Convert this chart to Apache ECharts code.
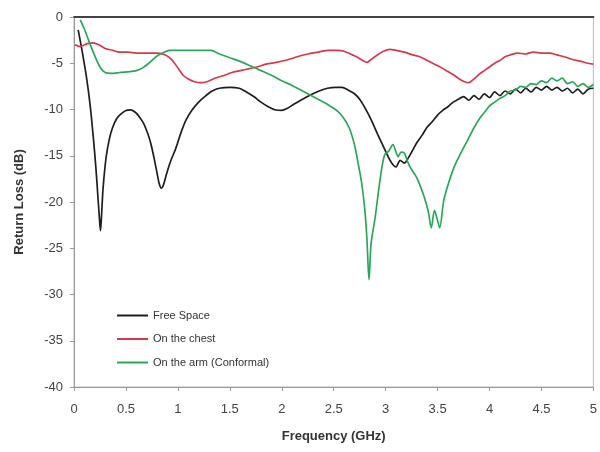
<!DOCTYPE html>
<html>
<head>
<meta charset="utf-8">
<script src="https://cdn.jsdelivr.net/npm/echarts@6/dist/echarts.min.js"></script>
<style>html,body{margin:0;padding:0;background:#fff}#c{width:600px;height:452px}</style>
</head>
<body>
<div id="c"></div>
<script>
var seriesNames = ["Free Space", "On the chest", "On the arm (Conformal)"];
var xTicks = [0, 0.5, 1, 1.5, 2, 2.5, 3, 3.5, 4, 4.5, 5];
var yTicks = [0, -5, -10, -15, -20, -25, -30, -35, -40];

var freeSpace = [[0.04,-1.4],[0.08,-3.8],[0.12,-6.5],[0.155,-9.5],[0.185,-12.9],[0.21,-16.2],[0.23,-19.4],[0.245,-21.8],[0.255,-23.1],[0.265,-21.5],[0.28,-18.5],[0.31,-15.1],[0.34,-13.2],[0.37,-12.0],[0.41,-11.0],[0.45,-10.5],[0.5,-10.1],[0.54,-10.05],[0.59,-10.3],[0.63,-10.8],[0.67,-11.5],[0.71,-12.6],[0.74,-13.7],[0.77,-15.2],[0.8,-16.9],[0.82,-18.0],[0.84,-18.5],[0.86,-18.2],[0.89,-17.0],[0.93,-15.6],[0.98,-14.2],[1.03,-12.5],[1.08,-11.1],[1.14,-10.0],[1.2,-9.2],[1.27,-8.5],[1.33,-8.0],[1.4,-7.7],[1.5,-7.6],[1.59,-7.7],[1.66,-8.1],[1.73,-8.6],[1.8,-9.2],[1.87,-9.7],[1.94,-10.05],[2.0,-10.1],[2.05,-9.9],[2.12,-9.4],[2.2,-8.9],[2.28,-8.4],[2.36,-8.0],[2.44,-7.7],[2.52,-7.6],[2.58,-7.6],[2.64,-7.9],[2.7,-8.3],[2.75,-8.9],[2.8,-9.8],[2.86,-11.1],[2.92,-12.6],[2.97,-13.8],[3.02,-15.0],[3.06,-15.8],[3.1,-16.2],[3.14,-15.5],[3.18,-15.8],[3.22,-15.2],[3.26,-14.4],[3.3,-13.6],[3.35,-12.8],[3.4,-11.9],[3.45,-11.3],[3.5,-10.6],[3.55,-10.1],[3.6,-9.7],[3.65,-9.2],[3.7,-8.9],[3.75,-8.6],[3.8,-9.0],[3.85,-8.5],[3.9,-8.9],[3.95,-8.3],[4.0,-8.7],[4.05,-8.1],[4.1,-8.5],[4.15,-8.0],[4.2,-8.3],[4.25,-7.8],[4.3,-8.2],[4.35,-7.7],[4.4,-8.1],[4.45,-7.6],[4.5,-7.9],[4.55,-7.5],[4.6,-7.9],[4.65,-7.6],[4.7,-8.0],[4.75,-7.7],[4.8,-8.2],[4.85,-7.8],[4.9,-8.3],[4.95,-7.8],[5.0,-7.7]];

var onChest = [[0.01,-3.0],[0.06,-3.2],[0.12,-2.9],[0.18,-2.8],[0.24,-3.0],[0.3,-3.4],[0.37,-3.6],[0.44,-3.8],[0.52,-3.8],[0.6,-3.9],[0.7,-3.9],[0.8,-3.9],[0.88,-4.1],[0.94,-4.6],[1.0,-5.5],[1.05,-6.3],[1.1,-6.7],[1.16,-7.0],[1.22,-7.1],[1.28,-7.0],[1.36,-6.6],[1.45,-6.3],[1.52,-6.0],[1.6,-5.8],[1.68,-5.6],[1.76,-5.4],[1.85,-5.1],[1.95,-4.9],[2.05,-4.65],[2.15,-4.3],[2.25,-4.0],[2.35,-3.8],[2.45,-3.6],[2.54,-3.6],[2.6,-3.7],[2.66,-4.0],[2.72,-4.3],[2.78,-4.7],[2.82,-4.9],[2.86,-4.6],[2.92,-4.1],[2.98,-3.7],[3.04,-3.5],[3.1,-3.6],[3.18,-3.8],[3.26,-4.1],[3.33,-4.3],[3.4,-4.7],[3.47,-5.1],[3.54,-5.5],[3.6,-5.9],[3.66,-6.3],[3.71,-6.7],[3.76,-7.0],[3.8,-7.1],[3.84,-6.8],[3.9,-6.2],[3.95,-5.8],[4.0,-5.4],[4.05,-5.0],[4.1,-4.7],[4.15,-4.3],[4.2,-4.1],[4.27,-3.9],[4.34,-4.0],[4.42,-3.8],[4.5,-3.9],[4.58,-3.9],[4.65,-4.1],[4.72,-4.3],[4.8,-4.6],[4.88,-4.8],[4.95,-5.0],[5.0,-5.1]];

var onArm = [[0.06,-0.3],[0.1,-1.3],[0.15,-2.8],[0.2,-4.2],[0.25,-5.4],[0.3,-6.0],[0.36,-6.1],[0.44,-6.0],[0.54,-5.9],[0.6,-5.8],[0.66,-5.5],[0.72,-5.0],[0.79,-4.3],[0.85,-3.9],[0.92,-3.6],[1.0,-3.6],[1.1,-3.6],[1.2,-3.6],[1.32,-3.6],[1.4,-4.0],[1.5,-4.4],[1.6,-4.8],[1.7,-5.3],[1.8,-5.8],[1.9,-6.3],[2.0,-6.9],[2.1,-7.4],[2.2,-8.0],[2.3,-8.6],[2.4,-9.2],[2.46,-9.6],[2.54,-10.2],[2.6,-11.0],[2.65,-12.0],[2.7,-13.8],[2.73,-15.5],[2.77,-18.0],[2.8,-20.9],[2.82,-24.0],[2.84,-28.4],[2.86,-24.5],[2.9,-21.6],[2.95,-17.3],[2.99,-14.9],[3.03,-14.5],[3.07,-13.8],[3.1,-14.6],[3.12,-15.1],[3.15,-14.6],[3.18,-14.7],[3.21,-15.6],[3.24,-16.3],[3.28,-17.0],[3.31,-17.6],[3.37,-19.4],[3.41,-21.0],[3.44,-22.8],[3.47,-20.9],[3.5,-22.0],[3.52,-22.8],[3.56,-19.8],[3.61,-17.8],[3.66,-16.2],[3.72,-14.8],[3.79,-13.3],[3.85,-12.0],[3.91,-10.9],[3.96,-10.2],[4.0,-9.6],[4.05,-9.2],[4.1,-8.8],[4.15,-8.5],[4.2,-8.0],[4.25,-7.9],[4.3,-7.5],[4.35,-7.6],[4.4,-7.2],[4.45,-7.3],[4.5,-6.9],[4.55,-7.1],[4.6,-6.6],[4.65,-6.9],[4.7,-6.6],[4.75,-7.2],[4.8,-7.0],[4.85,-7.5],[4.9,-7.2],[4.95,-7.6],[5.0,-7.3]];

var colors = ["#1e1e1e", "#d8394a", "#2aa85a"];
var chart = echarts.init(document.getElementById('c'), null, {renderer: 'canvas'});
var font = "Liberation Sans, Arial, sans-serif";
chart.setOption({
  animation: false,
  backgroundColor: '#ffffff',
  textStyle: {fontFamily: font},
  grid: {left: 74, right: 3, top: 17, bottom: 65, show: true, borderColor: '#bbbbbb', borderWidth: 1, backgroundColor: 'transparent'},
  legend: {
    orient: 'vertical', left: 112, top: 305, itemWidth: 31, itemHeight: 2, itemGap: 12.5,
    icon: 'rect',
    textStyle: {fontSize: 11, color: '#333', fontFamily: font},
    data: seriesNames
  },
  xAxis: [{
    type: 'value', min: xTicks[0], max: xTicks[xTicks.length - 1], interval: 0.5,
    name: 'Frequency (GHz)', nameLocation: 'middle', nameGap: 43,
    nameTextStyle: {fontSize: 13, fontWeight: 'bold', color: '#333', fontFamily: font},
    axisLine: {show: true, onZero: false, lineStyle: {color: '#999', width: 1}},
    axisTick: {show: true, inside: false, length: 4, lineStyle: {color: '#999'}},
    axisLabel: {fontSize: 13, color: '#444', margin: 16, fontFamily: font},
    splitLine: {show: false}
  }, {
    type: 'value', position: 'top', min: 0, max: 5,
    axisLine: {show: true, lineStyle: {color: '#444', width: 2}},
    axisTick: {show: false}, axisLabel: {show: false}, splitLine: {show: false}
  }],
  yAxis: {
    type: 'value', min: yTicks[yTicks.length - 1], max: yTicks[0], interval: 5,
    name: 'Return Loss (dB)', nameLocation: 'middle', nameGap: 48, nameRotate: 90,
    nameTextStyle: {fontSize: 13, fontWeight: 'bold', color: '#333', fontFamily: font},
    axisLine: {show: true, lineStyle: {color: '#999', width: 1}},
    axisTick: {show: true, length: 4, lineStyle: {color: '#999'}},
    axisLabel: {fontSize: 13, color: '#444', margin: 11, fontFamily: font},
    splitLine: {show: false}
  },
  series: [
    {name: seriesNames[0], type: 'line', data: freeSpace, showSymbol: false, smooth: 0.3, lineStyle: {width: 1.7, color: colors[0]}, itemStyle: {color: colors[0]}},
    {name: seriesNames[1], type: 'line', data: onChest, showSymbol: false, smooth: 0.3, lineStyle: {width: 1.7, color: colors[1]}, itemStyle: {color: colors[1]}},
    {name: seriesNames[2], type: 'line', data: onArm, showSymbol: false, smooth: 0.3, lineStyle: {width: 1.7, color: colors[2]}, itemStyle: {color: colors[2]}}
  ]
});
</script>
</body>
</html>
